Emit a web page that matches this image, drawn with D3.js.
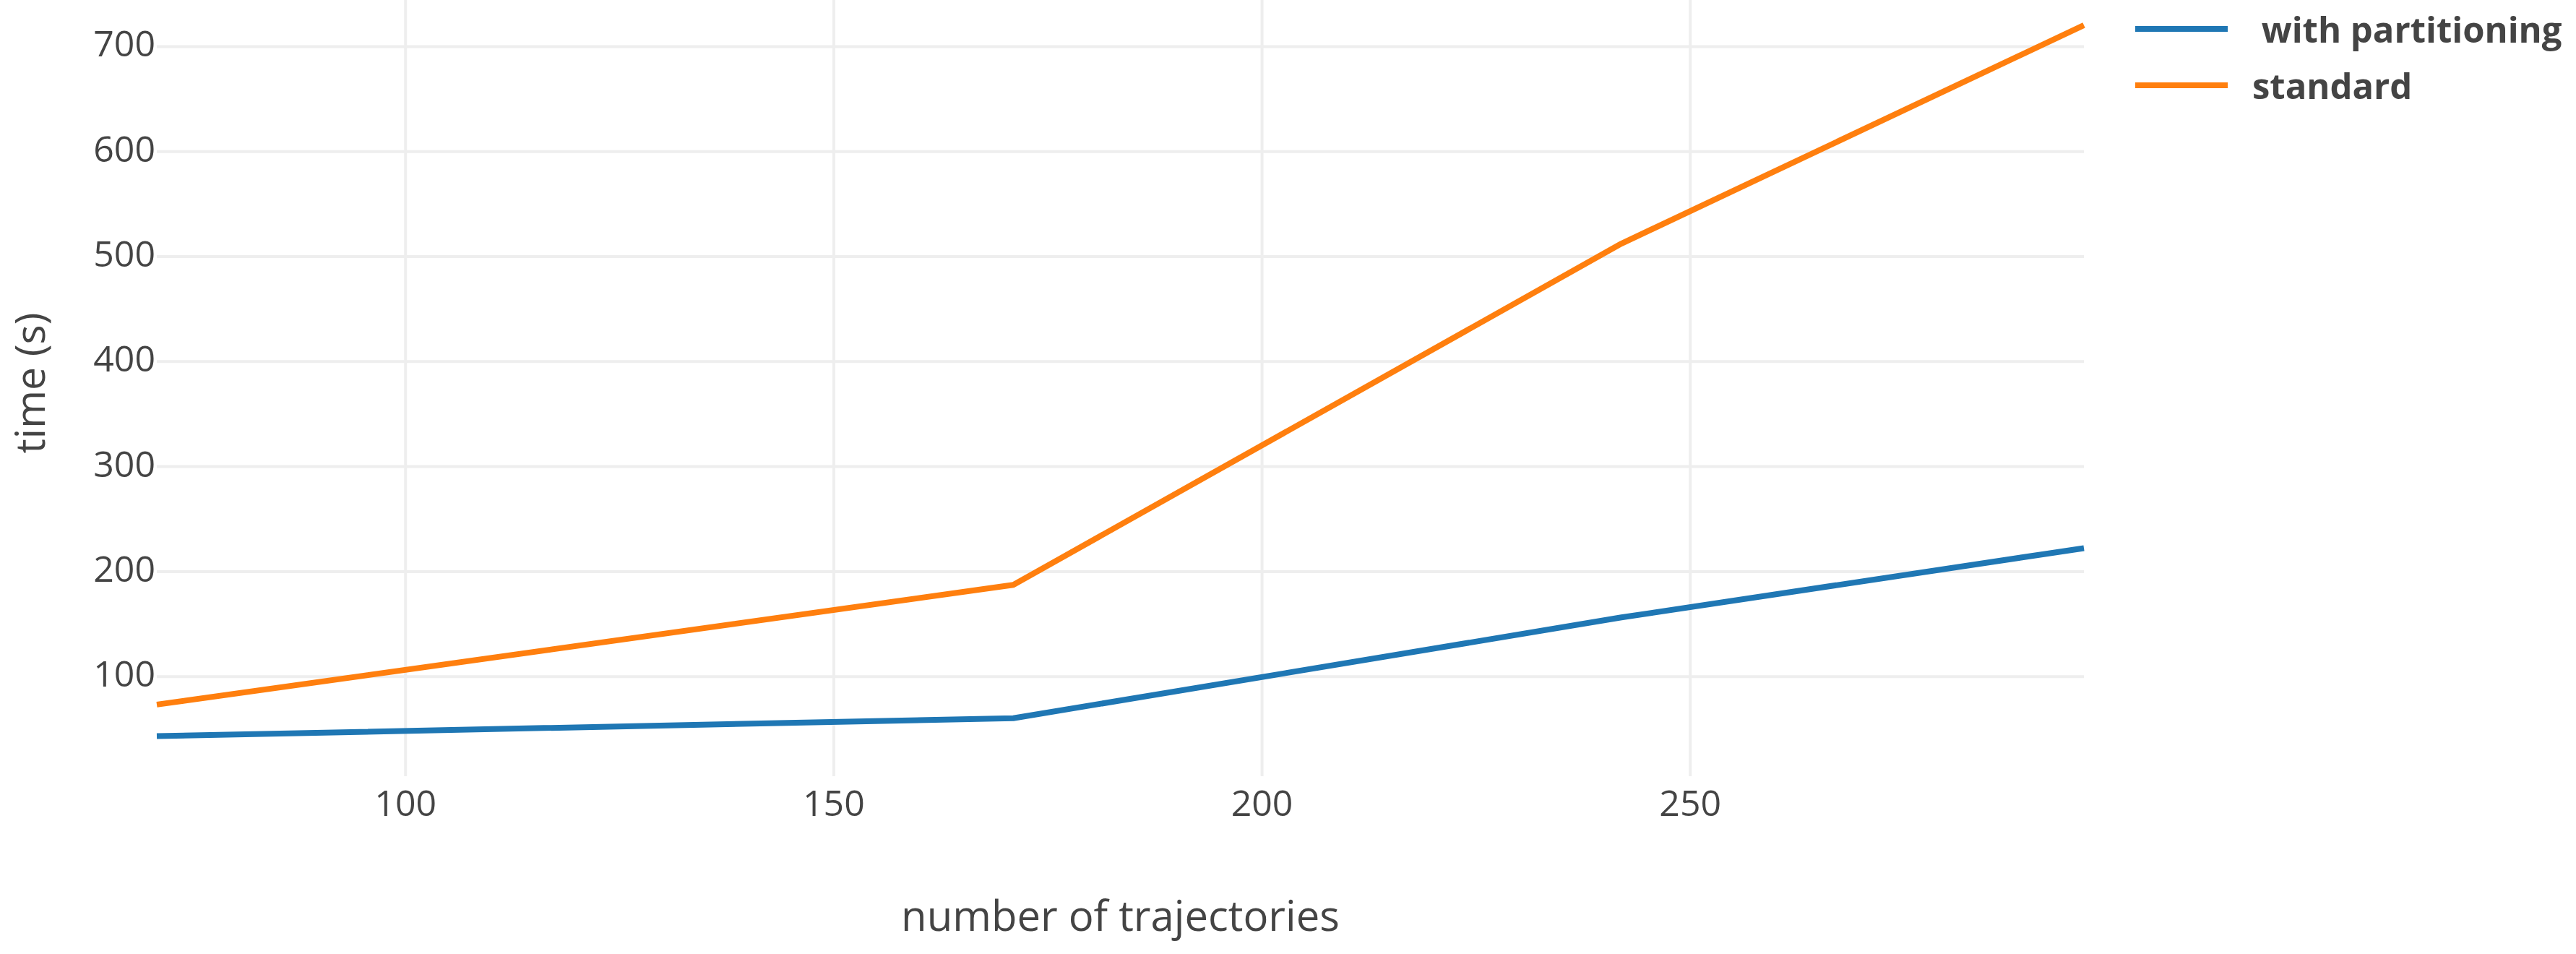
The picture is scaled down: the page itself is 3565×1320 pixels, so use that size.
<!DOCTYPE html>
<html>
<head>
<meta charset="utf-8">
<script src="https://cdn.jsdelivr.net/npm/d3@7"></script>
<style>
  html, body { margin: 0; padding: 0; background: #fff; }
  svg { display: block; }
  text { font-family: "Open Sans", "Noto Sans", sans-serif; fill: #444; }
</style>
</head>
<body>
<script>
// ---- data ----
const xValues = [71, 171, 242, 296];
const withPartitioning = [43, 60, 156, 222];
const standard = [73, 187, 512, 720];
const seriesNames = [" with partitioning", "standard"];
const seriesColors = ["#1f77b4", "#ff7f0e"];
const xTicks = [100, 150, 200, 250];
const yTicks = [100, 200, 300, 400, 500, 600, 700];
const xTitle = "number of trajectories";
const yTitle = "time (s)";

// ---- layout ----
const W = 3565, H = 1320;
const plot = { left: 217, right: 2884, top: 0, bottom: 1074 };

const svg = d3.select("body").append("svg").attr("width", W).attr("height", H);

const x = d3.scaleLinear().domain([71, 296]).range([plot.left, plot.right]);
const y = d3.scaleLinear().domain([4.8, 744]).range([plot.bottom, plot.top]);

// grid (vertical)
const xAxis = d3.axisBottom(x).tickValues(xTicks).tickSize(-(plot.bottom - plot.top)).tickPadding(18);
const gx = svg.append("g").attr("transform", `translate(0,${plot.bottom})`).call(xAxis);
gx.select(".domain").remove();
gx.selectAll(".tick line").attr("stroke", "#eeeeee").attr("stroke-width", 4);
gx.selectAll(".tick text")
  .attr("font-size", 50).attr("fill", "#444")
  .attr("font-family", "'Open Sans', sans-serif")
  .attr("dy", null).attr("y", 55);

// grid (horizontal)
const yAxis = d3.axisLeft(y).tickValues(yTicks).tickSize(-(plot.right - plot.left)).tickPadding(3);
const gy = svg.append("g").attr("transform", `translate(${plot.left},0)`).call(yAxis);
gy.select(".domain").remove();
gy.selectAll(".tick line").attr("stroke", "#eeeeee").attr("stroke-width", 4);
gy.selectAll(".tick text")
  .attr("font-size", 50).attr("fill", "#444")
  .attr("font-family", "'Open Sans', sans-serif")
  .attr("x", -2).attr("dy", 14);

// lines
const series = [withPartitioning, standard];
const line = d3.line().x((d, i) => x(xValues[i])).y(d => y(d));
series.forEach((s, k) => {
  svg.append("path")
    .datum(s)
    .attr("d", line)
    .attr("fill", "none")
    .attr("stroke", seriesColors[k])
    .attr("stroke-width", 8)
    .attr("stroke-linejoin", "round");
});

// axis titles
svg.append("text")
  .attr("x", (plot.left + plot.right) / 2).attr("y", 1288)
  .attr("text-anchor", "middle").attr("font-size", 58)
  .text(xTitle);

svg.append("text")
  .attr("transform", "translate(62,530) rotate(-90)")
  .attr("text-anchor", "middle").attr("font-size", 57)
  .text(yTitle);

// legend
const legendY = [40, 118];
series.forEach((s, k) => {
  const g = svg.append("g");
  g.append("line")
    .attr("x1", 2955).attr("x2", 3083)
    .attr("y1", legendY[k]).attr("y2", legendY[k])
    .attr("stroke", seriesColors[k]).attr("stroke-width", 8);
  g.append("text")
    .attr("x", 3117).attr("y", legendY[k] + 19)
    .attr("font-size", 49).attr("font-weight", 700)
    .style("white-space", "pre")
    .text(seriesNames[k]);
});
</script>
</body>
</html>
